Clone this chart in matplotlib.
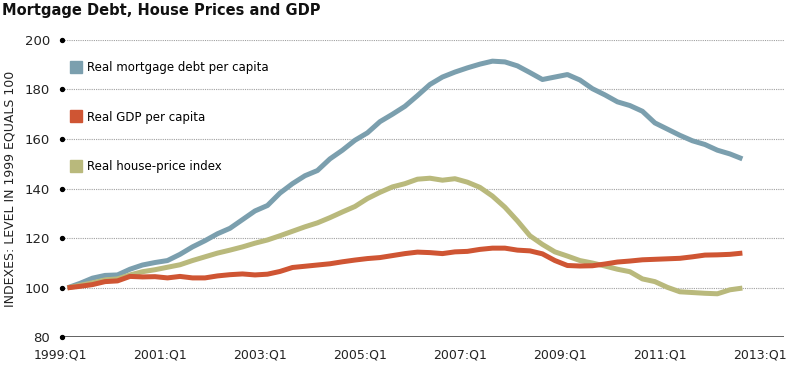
import numpy as np
import matplotlib.pyplot as plt
from matplotlib.lines import Line2D

# quarterly index values, 1999:Q1 .. 2012:Q3 (1999 = 100)
mortgage = [100, 101.8, 103.9, 105, 105.2, 107.5, 109.2, 110.2, 111, 113.5,
            116.5, 119, 121.8, 124, 127.5, 131, 133.2, 138.2, 142, 145.2,
            147.3, 152, 155.5, 159.5, 162.5, 167, 170, 173.2, 177.5, 182,
            185, 187, 188.7, 190.2, 191.4, 191.1, 189.5, 186.8, 184, 185,
            186, 183.8, 180.3, 177.8, 175, 173.5, 171.2, 166.5, 164, 161.5,
            159.3, 157.8, 155.5, 154, 152]
gdp = [100, 100.6, 101.3, 102.5, 102.8, 104.6, 104.4, 104.5, 104, 104.6,
       104, 104, 104.8, 105.3, 105.6, 105.2, 105.5, 106.6, 108.2, 108.7,
       109.2, 109.7, 110.5, 111.2, 111.8, 112.2, 113, 113.8, 114.4, 114.2,
       113.8, 114.5, 114.7, 115.5, 116, 116, 115.2, 114.9, 113.7, 111,
       109, 108.8, 108.9, 109.6, 110.4, 110.8, 111.3, 111.5, 111.7, 111.9,
       112.5, 113.2, 113.3, 113.5, 114]
house = [100, 101, 102, 103.2, 103.6, 105.2, 106.5, 107.3, 108.3, 109.3,
         111, 112.5, 114, 115.2, 116.5, 118, 119.3, 121, 122.8, 124.6,
         126.2, 128.3, 130.6, 132.8, 136, 138.5, 140.7, 142, 143.8, 144.2,
         143.4, 144, 142.6, 140.5, 137, 132.5, 127, 121, 117.5, 114.5,
         112.8, 111, 110, 108.8, 107.5, 106.5, 103.6, 102.5, 100.2, 98.4,
         98.1, 97.8, 97.6, 99.2, 99.9]
year_labels = ["1999:Q1", "2001:Q1", "2003:Q1", "2005:Q1",
               "2007:Q1", "2009:Q1", "2011:Q1", "2013:Q1"]
y_ticks = [80, 100, 120, 140, 160, 180, 200]

c_blue = "#7b9fae"
c_red = "#cf5533"
c_green = "#b9b97c"

fig = plt.figure(figsize=(8, 3.83), dpi=100)
ax = fig.add_axes([0.075, 0.119, 0.905, 0.777])

q = np.arange(len(mortgage))
ax.plot(q, mortgage, color=c_blue, lw=3.6, solid_capstyle='butt', zorder=3)
ax.plot(q, house, color=c_green, lw=3.6, solid_capstyle='butt', zorder=3)
ax.plot(q, gdp, color=c_red, lw=3.6, solid_capstyle='butt', zorder=4)

ax.set_xlim(-0.4, 57.33)
ax.set_ylim(80, 200)

for s in ax.spines.values():
    s.set_visible(False)

# dotted grid, solid baseline, dot tick marks
for y in y_ticks[1:]:
    ax.axhline(y, color="#a0a0a0", lw=0.8, ls=(0, (1, 1)), zorder=1)
ax.axhline(80, color="#555555", lw=1.3, zorder=2)
ax.scatter([-0.4] * len(y_ticks), y_ticks, s=8, color="black",
           clip_on=False, zorder=5)

ax.set_yticks(y_ticks)
ax.set_yticklabels([str(v) for v in y_ticks], fontsize=9.5, color="#222222")
ax.set_xticks(np.arange(len(year_labels)) * 8 - 0.6)
ax.set_xticklabels(year_labels, fontsize=9, color="#222222")
ax.tick_params(length=0, axis='y', pad=7)
ax.tick_params(length=0, axis='x', pad=8)

ax.set_ylabel("INDEXES: LEVEL IN 1999 EQUALS 100", fontsize=9, color="#222222",
              labelpad=6)

handles = [Line2D([], [], marker='s', ls='none', markersize=8, color=c)
           for c in (c_blue, c_red, c_green)]
labels = ["Real mortgage debt per capita", "Real GDP per capita",
          "Real house-price index"]
ax.legend(handles, labels, loc="upper left", bbox_to_anchor=(0.0097, 0.945),
          frameon=False, fontsize=8.5, handlelength=0.8, handletextpad=0.5,
          labelspacing=3.1, borderaxespad=0.0)

fig.text(0.003, 0.993, "Mortgage Debt, House Prices and GDP", fontsize=10.5,
         fontweight="heavy", va="top", ha="left", color="#111111")

fig.savefig("out.png", dpi=100)
